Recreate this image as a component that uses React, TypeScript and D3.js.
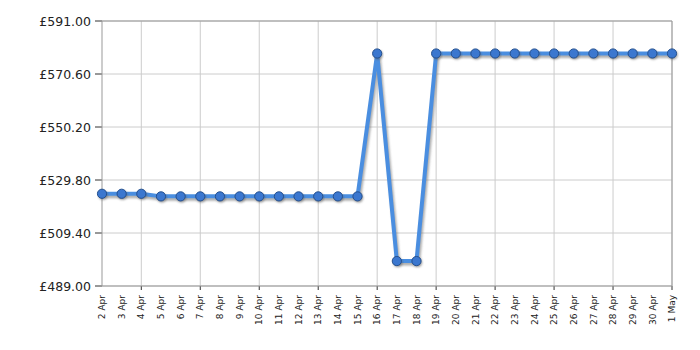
import React from "react";
import * as d3 from "d3";

const dates = [
  "2 Apr","3 Apr","4 Apr","5 Apr","6 Apr","7 Apr","8 Apr","9 Apr","10 Apr","11 Apr",
  "12 Apr","13 Apr","14 Apr","15 Apr","16 Apr","17 Apr","18 Apr","19 Apr","20 Apr","21 Apr",
  "22 Apr","23 Apr","24 Apr","25 Apr","26 Apr","27 Apr","28 Apr","29 Apr","30 Apr","1 May",
];
const prices = [
  524.5, 524.5, 524.5, 523.5, 523.5, 523.5, 523.5, 523.5, 523.5, 523.5,
  523.5, 523.5, 523.5, 523.5, 578.5, 498.6, 498.6, 578.5, 578.5, 578.5,
  578.5, 578.5, 578.5, 578.5, 578.5, 578.5, 578.5, 578.5, 578.5, 578.5,
];
const yTicks = [489.0, 509.4, 529.8, 550.2, 570.6, 591.0];
const gridDateIdx = [2, 5, 8, 11, 14, 17, 20, 23, 26, 29];

export default function App() {
  const W = 700, H = 350;
  const left = 102, right = 672, top = 21, bottom = 286;
  const x = d3.scaleLinear().domain([0, dates.length - 1]).range([left, right]);
  const y = d3.scaleLinear().domain([489, 591]).range([bottom, top]);
  const line = d3.line<number>().x((_, i) => x(i)).y((d) => y(d));
  const path = line(prices) || "";
  return (
    <svg width={W} height={H} style={{ position: "absolute", left: 0, top: 0, background: "#fff" }}
      fontFamily="'DejaVu Sans', Verdana, sans-serif">
      <defs>
        <filter id="sh" x="-10%" y="-10%" width="120%" height="130%">
          <feGaussianBlur stdDeviation="1.2" />
        </filter>
      </defs>
      {yTicks.map((t) => (
        <g key={t}>
          <line x1={left} x2={right} y1={y(t)} y2={y(t)} stroke="#cccccc" strokeWidth={1} />
          <line x1={left - 7} x2={left} y1={y(t)} y2={y(t)} stroke="#333" strokeWidth={1} />
          <text x={left - 11} y={y(t)} dy="0.36em" textAnchor="end" fontSize={12.5} fill="#222">
            {"£" + t.toFixed(2)}
          </text>
        </g>
      ))}
      {gridDateIdx.map((i) => (
        <g key={i}>
          <line x1={x(i)} x2={x(i)} y1={top} y2={bottom} stroke="#cccccc" strokeWidth={1} />
          <line x1={x(i)} x2={x(i)} y1={bottom} y2={bottom + 4} stroke="#333" strokeWidth={1} />
        </g>
      ))}
      <line x1={left} x2={right} y1={top} y2={top} stroke="#999" />
      <line x1={right} x2={right} y1={top} y2={bottom} stroke="#999" />
      <line x1={left} x2={left} y1={top} y2={bottom} stroke="#999" />
      <line x1={left} x2={right} y1={bottom} y2={bottom} stroke="#999" />
      {dates.map((d, i) => (
        <text key={d} transform={`translate(${x(i)},${bottom + 9}) rotate(-90)`} dy="0.35em"
          textAnchor="end" fontSize={9} fill="#222">{d}</text>
      ))}
      <path d={path} transform="translate(1.5,2.5)" fill="none" stroke="#777" strokeOpacity={0.6}
        strokeWidth={4} filter="url(#sh)" strokeLinejoin="round" />
      <path d={path} fill="none" stroke="#4a8ee0" strokeWidth={4} strokeLinejoin="round" />
      {prices.map((p, i) => (
        <g key={i}>
          <circle cx={x(i) + 1} cy={y(p) + 1.5} r={4.8} fill="#555" opacity={0.5} filter="url(#sh)" />
          <circle cx={x(i)} cy={y(p)} r={4.6} fill="#3b77cf" stroke="#24508f" strokeWidth={1} />
        </g>
      ))}
    </svg>
  );
}
